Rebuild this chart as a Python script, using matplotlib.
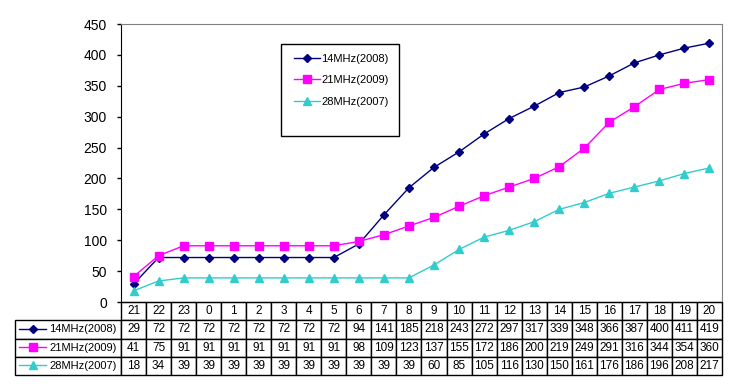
import matplotlib
matplotlib.use('Agg')
import matplotlib.pyplot as plt
from matplotlib.patches import Rectangle

plt.rcParams['font.family'] = ['Liberation Sans', 'DejaVu Sans']

hours = ['21', '22', '23', '0', '1', '2', '3', '4', '5', '6', '7', '8',
         '9', '10', '11', '12', '13', '14', '15', '16', '17', '18', '19', '20']
series_names = ['14MHz(2008)', '21MHz(2009)', '28MHz(2007)']
mhz14 = [29, 72, 72, 72, 72, 72, 72, 72, 72, 94, 141, 185,
         218, 243, 272, 297, 317, 339, 348, 366, 387, 400, 411, 419]
mhz21 = [41, 75, 91, 91, 91, 91, 91, 91, 91, 98, 109, 123,
         137, 155, 172, 186, 200, 219, 249, 291, 316, 344, 354, 360]
mhz28 = [18, 34, 39, 39, 39, 39, 39, 39, 39, 39, 39, 39,
         60, 85, 105, 116, 130, 150, 161, 176, 186, 196, 208, 217]
series = [mhz14, mhz21, mhz28]
colors = ['#000080', '#FF00FF', '#33CCCC']
markers = ['D', 's', '^']
msizes = [4.5, 5.5, 6.0]

W, H = 748, 389
# plot area in pixels
px0, px1, py0, py1 = 121, 722, 24, 302
fig = plt.figure(figsize=(W / 100, H / 100), dpi=100)
ax = fig.add_axes([px0 / W, 1 - py1 / H, (px1 - px0) / W, (py1 - py0) / H])
aw, ah = px1 - px0, py1 - py0

x = range(len(hours))
handles = []
for vals, c, m, ms, name in zip(series, colors, markers, msizes, series_names):
    h, = ax.plot(x, vals, color=c, marker=m, markersize=ms, linewidth=1.0,
                 markeredgecolor=c, label=name, clip_on=False)
    handles.append(h)

ax.set_xlim(-0.5, len(hours) - 0.5)
ax.set_ylim(0, 450)
ax.set_yticks(range(0, 451, 50))
ax.set_xticks([])
ax.tick_params(axis='y', direction='out', length=3, width=1, pad=7, labelsize=10)
for s in ['top', 'right']:
    ax.spines[s].set_color('#808080')
for s in ['left', 'bottom']:
    ax.spines[s].set_color('black')

# data table under the plot: first column holds the series keys
lab_w = (px0 - 15) / aw
row_h = 18.3 / ah
col_w = 1 / len(hours)
cell_text = [[''] + hours] + [[''] + [str(v) for v in vals] for vals in series]
tbl = ax.table(cellText=cell_text, cellLoc='center',
               colWidths=[lab_w] + [col_w] * len(hours),
               bbox=[-lab_w, -4 * row_h, 1 + lab_w, 4 * row_h])
tbl.auto_set_font_size(False)
tbl.set_fontsize(8.5)
for (r, c), cell in tbl.get_celld().items():
    cell.set_linewidth(1.0)
    cell.set_edgecolor('black')
    if r == 0 and c == 0:
        cell.visible_edges = ''

# legend keys inside the row label cells
for i, h in enumerate(handles):
    yc = -(1.5 + i) * row_h
    lg = ax.legend([h], [series_names[i]], loc='center left',
                   bbox_to_anchor=((19 - px0) / aw, yc), frameon=False,
                   fontsize=8, handlelength=2.45, handletextpad=0.25,
                   borderpad=0, borderaxespad=0)
    ax.add_artist(lg)

# boxed legend inside the plot
ax.add_patch(Rectangle(((281 - px0) / aw, (py1 - 136) / ah), 118 / aw, 92 / ah,
                       transform=ax.transAxes, fill=False, edgecolor='black',
                       linewidth=1.0, clip_on=False))
ax.legend(handles, series_names, loc='upper left',
          bbox_to_anchor=((294 - px0) / aw, (py1 - 54) / ah), frameon=False,
          fontsize=8, handlelength=2.35, handletextpad=0.1, labelspacing=1.02,
          borderpad=0, borderaxespad=0)

fig.savefig('out.png', dpi=100, facecolor='white')
